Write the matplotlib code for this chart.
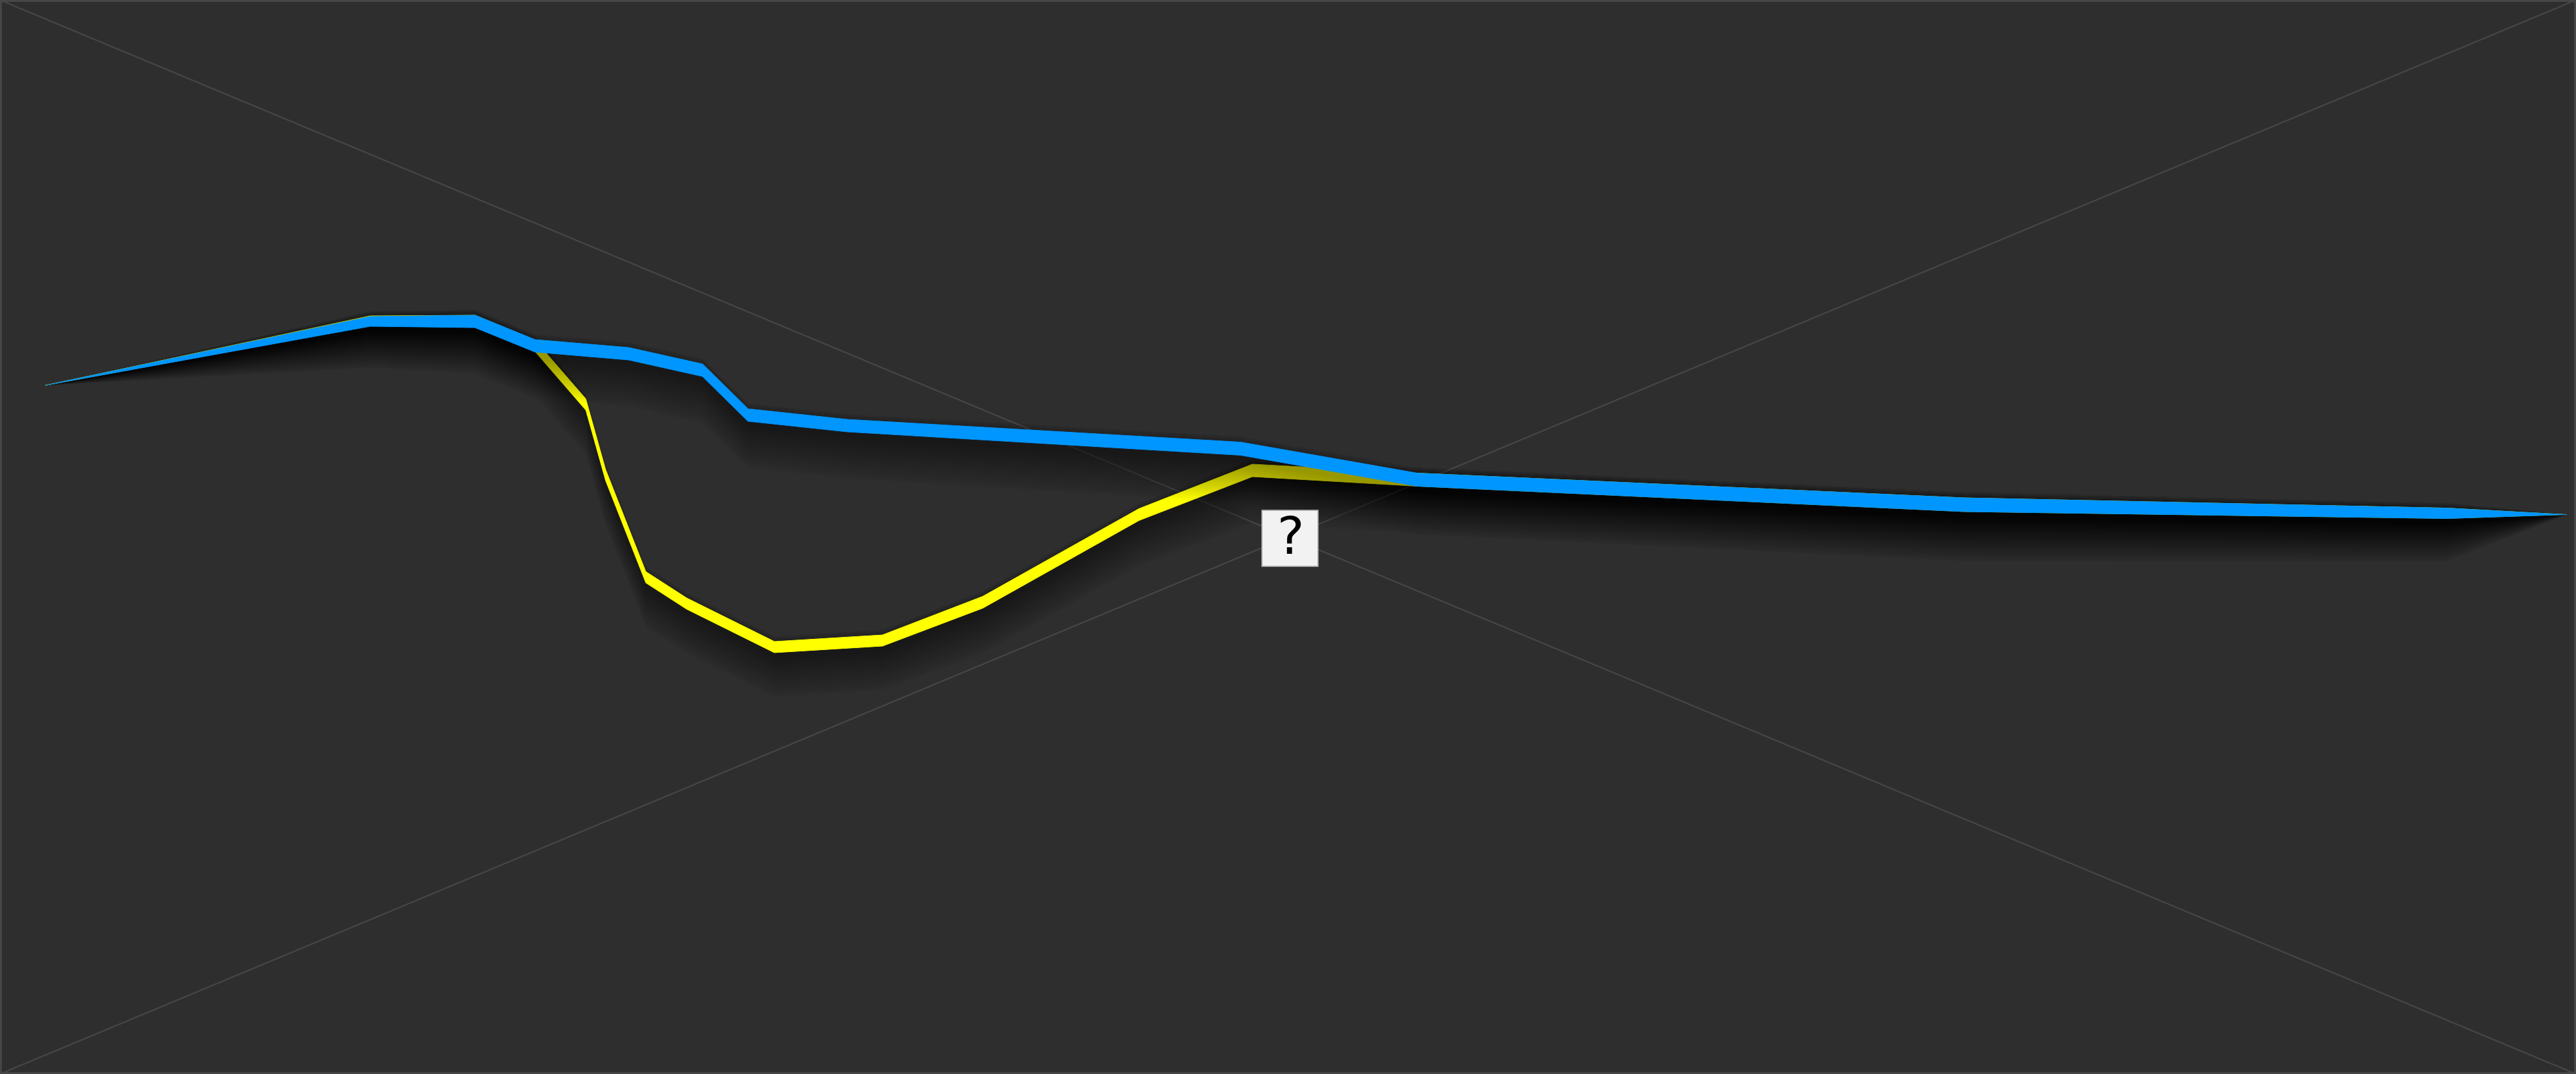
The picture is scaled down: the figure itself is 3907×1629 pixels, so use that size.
import matplotlib.pyplot as plt
from matplotlib.patches import Rectangle
import numpy as np

# canvas in pixels (the chart is drawn over a broken-image placeholder)
W, H = 3907, 1629

# blue flow: centre line and band thickness
blue_x = [68, 561, 720, 811, 953, 1065, 1134, 1284, 1881, 2149, 2978, 3710, 3892]
blue_y = [584, 487, 487, 524, 536, 561, 629, 645, 680, 727, 765, 778, 780]
blue_w = [0, 15, 19, 19, 19, 19, 19, 19, 20, 20, 21, 16, 0]

# yellow flow: runs under the blue one, splits off and joins again
yellow_x = [68, 561, 720, 811, 888, 918, 979, 1041, 1174, 1338, 1490, 1727, 1899, 2149, 2978, 3710, 3892]
yellow_y = [584, 486, 486, 524, 613, 720, 875, 915, 981, 971, 913, 780, 713, 727, 765, 778, 780]
yellow_w = [0, 15, 17, 17, 17, 17, 17, 17, 17, 17, 18, 18, 19, 20, 21, 16, 0]

bg = '#2e2e2e'
fig = plt.figure(figsize=(W / 100, H / 100), dpi=100, facecolor=bg)
ax = fig.add_axes([0, 0, 1, 1])
ax.set_facecolor(bg)
ax.set_xlim(0, W)
ax.set_ylim(H, 0)
ax.axis('off')

# placeholder cross and frame
ax.plot([0, W], [0, H], color='#474747', lw=1.5, zorder=1)
ax.plot([0, W], [H, 0], color='#474747', lw=1.5, zorder=1)
ax.add_patch(Rectangle((0, 0), W, H, fill=False, edgecolor='#474747', lw=4, zorder=1))


def band(x, y, w, color, z):
    x = np.array(x, float)
    y = np.array(y, float)
    w = np.array(w, float)
    s = np.sqrt(w / w.max())
    # soft drop shadow, fading out with the band at the tips
    for i in range(20):
        off = (10 + 1.2 * i) * s
        grow = 2.2 * i * s
        ax.fill_between(x, y - w / 2 + off - grow, y + w / 2 + off + grow,
                        color='black', alpha=0.022, lw=0, zorder=z)
    ax.fill_between(x, y - w / 2, y + w / 2, color=color, lw=0.6,
                    edgecolor=color, zorder=z + 1)


band(yellow_x, yellow_y, yellow_w, '#ffff00', 2)
band(blue_x, blue_y, blue_w, '#0096ff', 4)

# missing image marker
ax.add_patch(Rectangle((1914, 774), 85, 85, facecolor='#f2f2f2',
                       edgecolor='#b0b0b0', lw=1.2, zorder=6))
ax.text(1957, 818, '?', fontsize=56, family='DejaVu Sans', color='black',
        ha='center', va='center', zorder=7)

fig.savefig('out.png', dpi=100, facecolor=bg)
